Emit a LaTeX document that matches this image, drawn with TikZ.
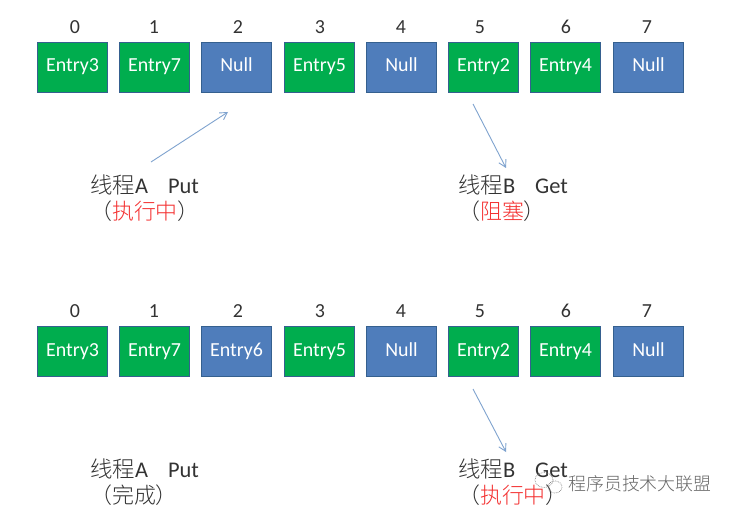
\documentclass[tikz,border=0pt]{standalone}
\usepackage{fontspec}
\setmainfont{Carlito}
\newfontfamily\cjk{Noto Sans CJK SC Light}
\usetikzlibrary{arrows.meta}
\definecolor{cellgreen}{HTML}{00AD4E}
\definecolor{cellblue}{HTML}{4F7DBB}
\definecolor{celledge}{HTML}{35608F}
\definecolor{arrowblue}{HTML}{7FA3CF}
\definecolor{labelgray}{HTML}{333333}
\definecolor{redtext}{HTML}{F43030}
\tikzset{
  cell/.style={draw=celledge,line width=1.9pt,minimum width=70bp,minimum height=50bp,inner sep=0pt,text height=13bp,text depth=4bp,text=white,font=\fontsize{20}{20}\selectfont},
  full/.style={cell,fill=cellgreen},
  empty/.style={cell,fill=cellblue},
  idx/.style={text=labelgray,inner sep=0pt,font=\fontsize{20}{20}\selectfont},
  thread/.style={text=labelgray,inner sep=0pt,anchor=west,font=\fontsize{22.5}{22.5}\selectfont},
  status/.style={text=labelgray,inner sep=0pt,anchor=west,font=\cjk\fontsize{22}{22}\selectfont},
  link/.style={draw=arrowblue,line width=0.9pt,-{Straight Barb[length=7bp,width=8bp]}}
}
\newcommand{\rd}[1]{\textcolor{redtext}{#1}}
\begin{document}
\begin{tikzpicture}[x=1bp,y=-1bp]
\useasboundingbox[fill=white] (0,0) rectangle (735,516);
% top row
\node[idx] (ta) at (75,27) {0};
\node[idx] (tb) at (154,27) {1};
\node[idx] (tc) at (238,27) {2};
\node[idx] (td) at (320,27) {3};
\node[idx] (te) at (401,27) {4};
\node[idx] (tf) at (480,27) {5};
\node[idx] (tg) at (566,27) {6};
\node[idx] (th) at (647,27) {7};
\node[full] (c0) at (72.5,67.5) {Entry3};
\node[full] (c1) at (154.5,67.5) {Entry7};
\node[empty] (c2) at (236.5,67.5) {Null};
\node[full] (c3) at (319.5,67.5) {Entry5};
\node[empty] (c4) at (401.5,67.5) {Null};
\node[full] (c5) at (483.5,67.5) {Entry2};
\node[full] (c6) at (565.5,67.5) {Entry4};
\node[empty] (c7) at (648.5,67.5) {Null};
% bottom row
\node[idx] (ba) at (75,311) {0};
\node[idx] (bb) at (154,311) {1};
\node[idx] (bc) at (238,311) {2};
\node[idx] (bd) at (320,311) {3};
\node[idx] (be) at (401,311) {4};
\node[idx] (bf) at (480,311) {5};
\node[idx] (bg) at (566,311) {6};
\node[idx] (bh) at (647,311) {7};
\node[full] (d0) at (72.5,351.5) {Entry3};
\node[full] (d1) at (154.5,351.5) {Entry7};
\node[empty] (d2) at (236.5,351.5) {Entry6};
\node[full] (d3) at (319.5,351.5) {Entry5};
\node[empty] (d4) at (401.5,351.5) {Null};
\node[full] (d5) at (483.5,351.5) {Entry2};
\node[full] (d6) at (565.5,351.5) {Entry4};
\node[empty] (d7) at (648.5,351.5) {Null};
% labels
\node[thread] (la) at (90,185) {{\cjk 线程}A\hspace{20bp}Put};
\node[status] (sa) at (90,211) {（\rd{执行中}）};
\node[thread] (lb) at (458,185) {{\cjk 线程}B\hspace{20bp}Get};
\node[status] (sb) at (458,211) {（\rd{阻塞}）};
\node[thread] (lc) at (90,469) {{\cjk 线程}A\hspace{20bp}Put};
\node[status] (sc) at (90,495) {（完成）};
\node[thread] (ld) at (458,469) {{\cjk 线程}B\hspace{20bp}Get};
\node[status] (sd) at (458,495) {（\rd{执行中}）};
% arrows
\coordinate (pa) at (151,162);
\coordinate (pb) at (228,112);
\coordinate (qa) at (473,104);
\coordinate (qb) at (506,168);
\coordinate (ra) at (473,389);
\coordinate (rb) at (506,452);
\draw[link] (pa) -- (pb);
\draw[link] (qa) -- (qb);
\draw[link] (ra) -- (rb);
% watermark
\node[text=gray!80!black,inner sep=0pt,anchor=west,font=\cjk\fontsize{18}{18}\selectfont] (wm2) at (568,483.5) {程序员技术大联盟};
\draw[gray,densely dotted,line width=0.7pt] (544,480) ellipse (9 and 7.5);
\draw[gray,densely dotted,line width=0.7pt] (555,487) ellipse (7 and 6);
\end{tikzpicture}
\end{document}
